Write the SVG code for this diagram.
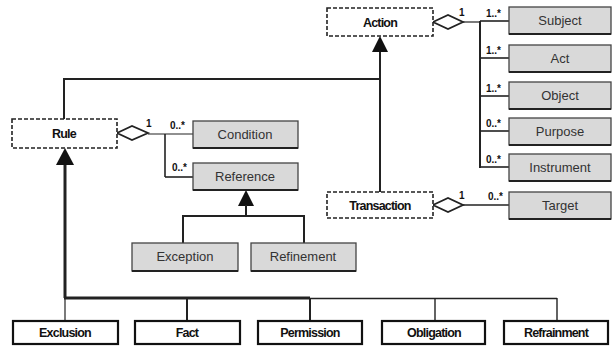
<svg xmlns="http://www.w3.org/2000/svg" width="613" height="348" viewBox="0 0 613 348">
<style>
.g{fill:#d9d9d9;stroke:#444;stroke-width:1.3}
.gs{stroke:#222;stroke-width:2.2;fill:none}
.d{fill:#fff;stroke:#222;stroke-width:1.6;stroke-dasharray:4 2}
.w{fill:#fff;stroke:#111;stroke-width:2.2}
.tg{font-family:"Liberation Sans",Arial,sans-serif;font-size:13px;fill:#333;text-anchor:middle}
.tb{font-family:"Liberation Sans",Arial,sans-serif;font-size:12.5px;font-weight:bold;fill:#111;text-anchor:middle;letter-spacing:-0.8px}
.m{font-family:"Liberation Sans",Arial,sans-serif;font-size:10px;font-weight:bold;fill:#111}
.c{stroke:#222;fill:none}
.dia{fill:#fff;stroke:#222;stroke-width:1.8}
.tri{fill:#111}
</style>
<g id="connectors">
<line class="c" x1="463" y1="22" x2="480" y2="22" stroke-width="1.2"/>
<line class="c" x1="480" y1="21" x2="480" y2="168" stroke-width="2"/>
<line class="c" x1="480" y1="21" x2="509" y2="21" stroke-width="1.6"/>
<line class="c" x1="480" y1="58" x2="509" y2="58" stroke-width="1.6"/>
<line class="c" x1="480" y1="96" x2="509" y2="96" stroke-width="1.6"/>
<line class="c" x1="480" y1="131" x2="509" y2="131" stroke-width="1.6"/>
<line class="c" x1="480" y1="167" x2="509" y2="167" stroke-width="1.6"/>
<line class="c" x1="463" y1="205" x2="509" y2="205" stroke-width="1.6"/>
<line class="c" x1="148" y1="134" x2="193" y2="134" stroke-width="1.2"/>
<line class="c" x1="165" y1="134" x2="165" y2="177" stroke-width="1.6"/>
<line class="c" x1="165" y1="177" x2="193" y2="177" stroke-width="1.6"/>
<polygon class="dia" points="433,22 448,15 463,22 448,29"/>
<polygon class="dia" points="433,205 448,198 463,205 448,212"/>
<polygon class="dia" points="117,133 132,126 148,133 132,140"/>
<text class="m" x="459" y="16">1</text>
<text class="m" x="486" y="17">1..*</text>
<text class="m" x="486" y="54">1..*</text>
<text class="m" x="486" y="92">1..*</text>
<text class="m" x="486" y="127">0..*</text>
<text class="m" x="486" y="163">0..*</text>
<text class="m" x="459" y="199">1</text>
<text class="m" x="488" y="200">0..*</text>
<text class="m" x="146" y="127">1</text>
<text class="m" x="170" y="129">0..*</text>
<text class="m" x="172" y="171">0..*</text>
<line class="c" x1="380" y1="50" x2="380" y2="192" stroke-width="2"/>
<polygon class="tri" points="380,36 372,52 388,52"/>
<polyline class="c" points="64,119 64,79 380,79" stroke-width="2"/>
<line class="c" x1="65" y1="163" x2="65" y2="298" stroke-width="3"/>
<polygon class="tri" points="65,148 56,165 74,165"/>
<line class="c" x1="64" y1="298" x2="310" y2="298" stroke-width="3"/>
<line class="c" x1="310" y1="298.5" x2="557" y2="298.5" stroke-width="1.6"/>
<line class="c" x1="65" y1="298" x2="65" y2="321" stroke-width="1.2"/>
<line class="c" x1="187" y1="298" x2="187" y2="321" stroke-width="2"/>
<line class="c" x1="310" y1="298" x2="310" y2="321" stroke-width="2"/>
<line class="c" x1="435" y1="298" x2="435" y2="321" stroke-width="1.4"/>
<line class="c" x1="557" y1="298" x2="557" y2="321" stroke-width="1.4"/>
<polygon class="tri" points="246,190 238,206 254,206"/>
<line class="c" x1="246" y1="205" x2="246" y2="216" stroke-width="2"/>
<polyline class="c" points="183,243 183,216 304,216 304,243" stroke-width="2"/>
</g>
<g id="action"><rect class="d" x="327" y="8" width="106" height="28"/><text class="tb" x="380" y="27">Action</text></g>
<g id="transaction"><rect class="d" x="327" y="192" width="106" height="26"/><text class="tb" x="380" y="210">Transaction</text></g>
<g id="rule"><rect class="d" x="12" y="119" width="105" height="29"/><text class="tb" x="64" y="138">Rule</text></g>
<g id="subject"><rect class="g" x="509" y="7" width="102" height="27"/><line class="gs" x1="509" y1="34" x2="611" y2="34"/><text class="tg" x="560" y="25">Subject</text></g>
<g id="act"><rect class="g" x="509" y="45" width="102" height="27"/><line class="gs" x1="509" y1="72" x2="611" y2="72"/><text class="tg" x="560" y="63">Act</text></g>
<g id="object"><rect class="g" x="509" y="82" width="102" height="27"/><line class="gs" x1="509" y1="109" x2="611" y2="109"/><text class="tg" x="560" y="100">Object</text></g>
<g id="purpose"><rect class="g" x="509" y="118" width="102" height="27"/><line class="gs" x1="509" y1="145" x2="611" y2="145"/><text class="tg" x="560" y="136">Purpose</text></g>
<g id="instrument"><rect class="g" x="509" y="154" width="102" height="27"/><line class="gs" x1="509" y1="181" x2="611" y2="181"/><text class="tg" x="560" y="172">Instrument</text></g>
<g id="target"><rect class="g" x="509" y="192" width="102" height="27"/><line class="gs" x1="509" y1="219" x2="611" y2="219"/><text class="tg" x="560" y="210">Target</text></g>
<g id="condition"><rect class="g" x="193" y="121" width="105" height="27"/><line class="gs" x1="193" y1="148" x2="298" y2="148"/><text class="tg" x="245" y="139">Condition</text></g>
<g id="reference"><rect class="g" x="193" y="163" width="105" height="27"/><line class="gs" x1="193" y1="190" x2="298" y2="190"/><text class="tg" x="245" y="181">Reference</text></g>
<g id="exception"><rect class="g" x="132" y="243" width="106" height="28"/><line class="gs" x1="132" y1="271" x2="238" y2="271"/><text class="tg" x="185" y="261">Exception</text></g>
<g id="refinement"><rect class="g" x="251" y="243" width="105" height="28"/><line class="gs" x1="251" y1="271" x2="356" y2="271"/><text class="tg" x="303" y="261">Refinement</text></g>
<g id="exclusion"><rect class="w" x="13" y="321" width="105" height="23"/><text class="tb" x="65" y="337">Exclusion</text></g>
<g id="fact"><rect class="w" x="135" y="321" width="105" height="23"/><text class="tb" x="187" y="337">Fact</text></g>
<g id="permission"><rect class="w" x="258" y="321" width="104" height="23"/><text class="tb" x="310" y="337">Permission</text></g>
<g id="obligation"><rect class="w" x="382" y="321" width="103" height="23"/><text class="tb" x="434" y="337">Obligation</text></g>
<g id="refrainment"><rect class="w" x="504" y="321" width="104" height="23"/><text class="tb" x="556" y="337">Refrainment</text></g>
</svg>
